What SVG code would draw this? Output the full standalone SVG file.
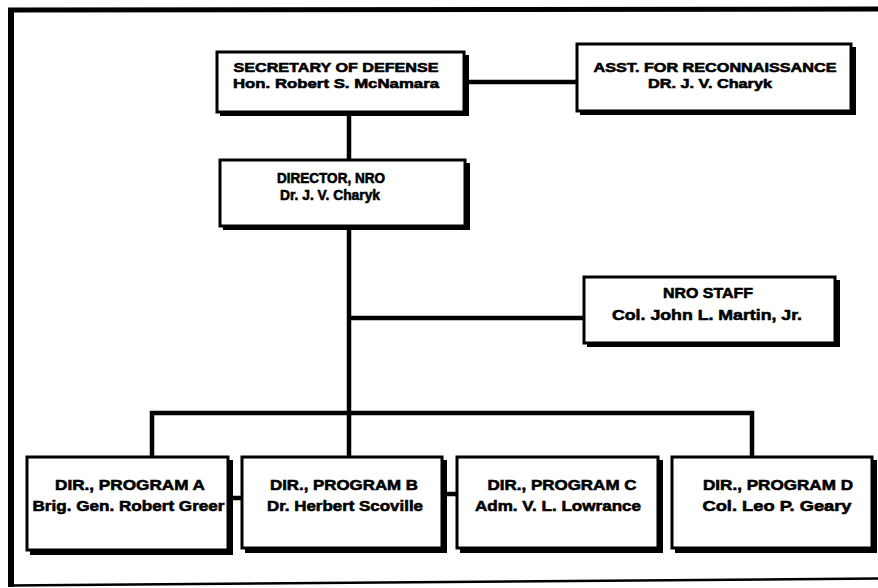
<svg xmlns="http://www.w3.org/2000/svg" width="878" height="588" viewBox="0 0 878 588">
<style>
.sh{fill:#000}
.bx{fill:#fff;stroke:#000;stroke-width:3}
.t{font-family:"Liberation Sans",Arial,sans-serif;font-weight:bold;font-size:15.5px;fill:#000;text-anchor:middle;stroke:#000;stroke-width:0.6}
.s{font-size:13.5px}
.m{font-size:14.5px}
.c{stroke:#000;stroke-width:4.5;fill:none}
.fr{stroke:#000;fill:none}
</style>
<rect width="878" height="588" fill="#fff"/>
<g id="frame">
<line class="fr" x1="8" y1="10" x2="878" y2="9" stroke-width="5"/>
<line class="fr" x1="11" y1="8" x2="11" y2="587" stroke-width="6"/>
<line class="fr" x1="9" y1="585.5" x2="878" y2="578.5" stroke-width="2.5"/>
</g>
<g id="connectors">
<line class="c" x1="349" y1="113" x2="349" y2="160"/>
<line class="c" x1="466" y1="82" x2="577" y2="82"/>
<line class="c" x1="349" y1="227" x2="349" y2="413"/>
<line class="c" x1="349" y1="318" x2="584" y2="318"/>
<line class="c" x1="150" y1="413" x2="754" y2="413"/>
<line class="c" x1="152" y1="411" x2="152" y2="457"/>
<line class="c" x1="349" y1="413" x2="349" y2="457"/>
<line class="c" x1="752" y1="411" x2="752" y2="457"/>
<line class="c" x1="230" y1="498" x2="242" y2="498"/>
<line class="c" x1="444" y1="494" x2="457" y2="494"/>
</g>
<g id="secdef">
<rect class="sh" x="220" y="55" width="249" height="61"/>
<rect class="bx" x="217" y="52" width="247" height="60"/>
<text class="t s" x="336" y="72" textLength="205" lengthAdjust="spacingAndGlyphs">SECRETARY OF DEFENSE</text>
<text class="t s" x="336" y="88" textLength="206" lengthAdjust="spacingAndGlyphs">Hon. Robert S. McNamara</text>
</g>
<g id="asst">
<rect class="sh" x="580" y="47" width="276" height="68"/>
<rect class="bx" x="577" y="44" width="274" height="67"/>
<text class="t s" x="715" y="72" textLength="243" lengthAdjust="spacingAndGlyphs">ASST. FOR RECONNAISSANCE</text>
<text class="t s" x="710" y="88" textLength="124" lengthAdjust="spacingAndGlyphs">DR. J. V. Charyk</text>
</g>
<g id="director">
<rect class="sh" x="223" y="163" width="247" height="67"/>
<rect class="bx" x="220" y="160" width="245" height="66"/>
<text class="t m" x="331" y="183" textLength="108" lengthAdjust="spacingAndGlyphs">DIRECTOR, NRO</text>
<text class="t m" x="330" y="200" textLength="100" lengthAdjust="spacingAndGlyphs">Dr. J. V. Charyk</text>
</g>
<g id="staff">
<rect class="sh" x="587" y="280" width="253" height="67"/>
<rect class="bx" x="584" y="277" width="251" height="66"/>
<text class="t" x="708" y="298" textLength="90" lengthAdjust="spacingAndGlyphs">NRO STAFF</text>
<text class="t" x="707" y="320" textLength="190" lengthAdjust="spacingAndGlyphs">Col. John L. Martin, Jr.</text>
</g>
<g id="progA">
<rect class="sh" x="30" y="460" width="203" height="95"/>
<rect class="bx" x="27" y="457" width="201" height="93"/>
<text class="t" x="130" y="490" textLength="150" lengthAdjust="spacingAndGlyphs">DIR., PROGRAM A</text>
<text class="t" x="128.5" y="511" textLength="192" lengthAdjust="spacingAndGlyphs">Brig. Gen. Robert Greer</text>
</g>
<g id="progB">
<rect class="sh" x="245" y="460" width="202" height="93"/>
<rect class="bx" x="242" y="457" width="200" height="91"/>
<text class="t" x="344" y="490" textLength="148" lengthAdjust="spacingAndGlyphs">DIR., PROGRAM B</text>
<text class="t" x="345" y="511" textLength="156" lengthAdjust="spacingAndGlyphs">Dr. Herbert Scoville</text>
</g>
<g id="progC">
<rect class="sh" x="460" y="460" width="203" height="93"/>
<rect class="bx" x="457" y="457" width="201" height="91"/>
<text class="t" x="562" y="490" textLength="149" lengthAdjust="spacingAndGlyphs">DIR., PROGRAM C</text>
<text class="t" x="558" y="511" textLength="166" lengthAdjust="spacingAndGlyphs">Adm. V. L. Lowrance</text>
</g>
<g id="progD">
<rect class="sh" x="675" y="460" width="202" height="93"/>
<rect class="bx" x="672" y="457" width="200" height="91"/>
<text class="t" x="778" y="490" textLength="150" lengthAdjust="spacingAndGlyphs">DIR., PROGRAM D</text>
<text class="t" x="777" y="511" textLength="149" lengthAdjust="spacingAndGlyphs">Col. Leo P. Geary</text>
</g>
</svg>
